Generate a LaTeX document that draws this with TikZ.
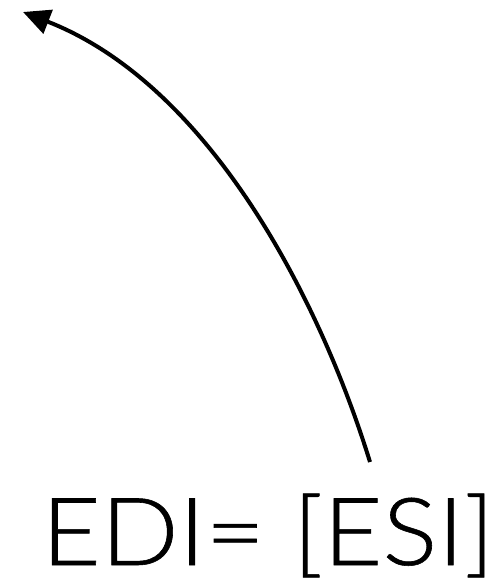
\documentclass[tikz,border=0pt]{standalone}
\usepackage{fontspec}
\usepackage{graphicx}
\setmainfont{Lato}[UprightFont=* Light, UprightFeatures={FakeBold=0.6}]
\usetikzlibrary{arrows.meta}
\begin{document}
\begin{tikzpicture}[x=1pt,y=-1pt,
  curvearrow/.style={line width=4pt,-{Triangle[length=27pt,width=25pt]}},
  label/.style={inner sep=0pt,anchor=base,font=\fontsize{94}{94}\selectfont}]
\useasboundingbox (0,0) rectangle (502,585);
\node[label] (eq) at (268,565) {\scalebox{1.09}[1]{EDI= [ESI]}};
\coordinate (start) at (370,462);
\coordinate (tip) at (23,12);
\draw[curvearrow] (start) .. controls (320,300) and (210,85) .. (tip);
\end{tikzpicture}
\end{document}
